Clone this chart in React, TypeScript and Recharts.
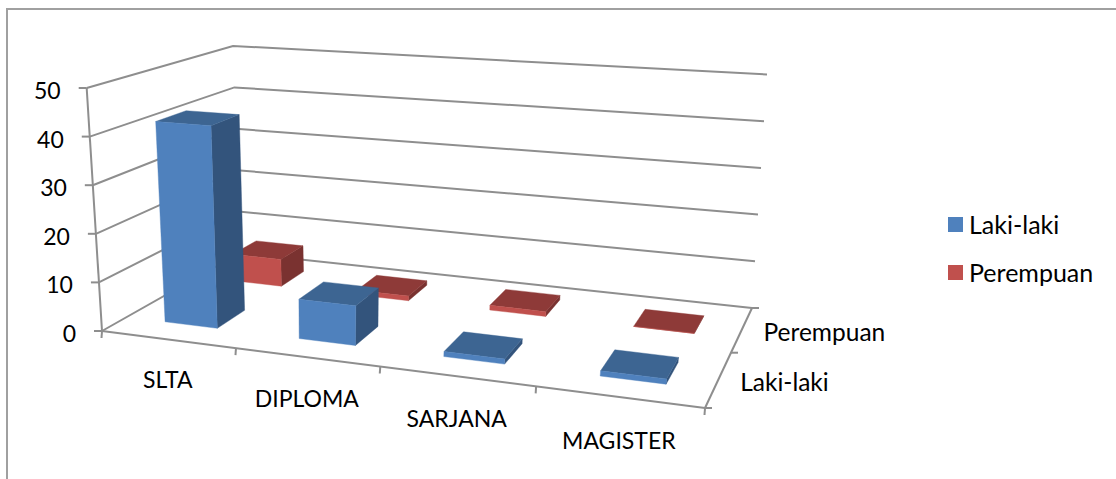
import React from 'react';
import { BarChart, Bar, XAxis, YAxis, CartesianGrid, Legend } from 'recharts';

const categories = ['SLTA', 'DIPLOMA', 'SARJANA', 'MAGISTER'];
const lakiLaki = [42, 8, 1, 1];
const perempuan = [6, 1, 1, 0];
const valueTicks = [0, 10, 20, 30, 40, 50];
const depthRows = ['Laki-laki', 'Perempuan'];

const chartData = categories.map((name, i) => ({
  name,
  'Laki-laki': lakiLaki[i],
  Perempuan: perempuan[i],
}));

const FONT = 'Lato, sans-serif';
const AXIS_COLOR = '#8e8e8e';
const AXIS_WIDTH = 2;

// plot rectangle the library scales map onto
const PLOT = { left: 102, top: 88, width: 603, height: 243 };
const BOTTOM = PLOT.top + PLOT.height;

// cube corners on screen: front-left, front-right, back-right, back-left
const FLOOR = [[102, 331], [705, 408], [752, 308], [240, 253]];
const CEILING = [[86.7, 88], [735, 135], [767, 74.5], [233, 46]];

const foreshorten = (v: number, a: number) => (a * v) / (1 + (a - 1) * v);

const quad = (c: number[][], s: number, t: number) => {
  const lx = c[0][0] + (c[3][0] - c[0][0]) * t;
  const ly = c[0][1] + (c[3][1] - c[0][1]) * t;
  const rx = c[1][0] + (c[2][0] - c[1][0]) * t;
  const ry = c[1][1] + (c[2][1] - c[1][1]) * t;
  return [lx + (rx - lx) * s, ly + (ry - ly) * s];
};

// u along categories, d into the depth, h up the value axis, all 0..1
const project = (u: number, d: number, h: number) => {
  const s = foreshorten(u, 0.857);
  const t = foreshorten(d, 1.237);
  const a = quad(FLOOR, s, t);
  const b = quad(CEILING, s, t);
  return [a[0] + (b[0] - a[0]) * h, a[1] + (b[1] - a[1]) * h];
};

const pts = (list: number[][]) => list.map((p) => `${p[0].toFixed(1)},${p[1].toFixed(1)}`).join(' ');
const uOf = (x: number) => (x - PLOT.left) / PLOT.width;
const hOf = (y: number) => (BOTTOM - y) / PLOT.height;

const Box = ({ x, y, width, d0, d1, front, top, side }: any) => {
  // boxes sit a touch further right than the band centres
  const u0 = uOf(x) * 1.006;
  const u1 = uOf(x + width) * 1.006;
  const h = hOf(y);
  return (
    <g strokeWidth={0.4}>
      <polygon
        points={pts([project(u1, d0, 0), project(u1, d1, 0), project(u1, d1, h), project(u1, d0, h)])}
        fill={side}
        stroke={side}
      />
      <polygon
        points={pts([project(u0, d0, h), project(u1, d0, h), project(u1, d1, h), project(u0, d1, h)])}
        fill={top}
        stroke={top}
      />
      <polygon
        points={pts([project(u0, d0, 0), project(u1, d0, 0), project(u1, d0, h), project(u0, d0, h)])}
        fill={front}
        stroke={front}
      />
    </g>
  );
};

// each gridline runs along the left wall and then the back wall
const WallLine = ({ y1 }: any) => {
  const h = hOf(y1);
  return (
    <polyline
      points={pts([project(0, 0, h), project(0, 1, h), project(1, 1, h)])}
      fill="none"
      stroke={AXIS_COLOR}
      strokeWidth={AXIS_WIDTH}
    />
  );
};

const ValueTick = ({ y, payload }: any) => {
  const h = hOf(y);
  const p = project(0, 0, h);
  return (
    <g>
      {payload.value === 0 && (
        <polyline points={pts([project(0, 0, 0), project(0, 0, 1)])} fill="none" stroke={AXIS_COLOR} strokeWidth={AXIS_WIDTH} />
      )}
      <line x1={p[0] - 8} y1={p[1]} x2={p[0]} y2={p[1]} stroke={AXIS_COLOR} strokeWidth={AXIS_WIDTH} />
      <text x={p[0] - 26} y={y + 2} textAnchor="end" dominantBaseline="central" fontSize={23} fontFamily={FONT} fill="#000">
        {payload.value}
      </text>
    </g>
  );
};

const CategoryTick = ({ x, payload, index }: any) => {
  const u = uOf(x);
  const step = 1 / categories.length;
  const p = project(u, 0, 0);
  const marks = index === categories.length - 1 ? [u - step / 2, u + step / 2] : [u - step / 2];
  return (
    <g>
      {index === 0 && (
        <polyline points={pts([project(0, 0, 0), project(1, 0, 0)])} fill="none" stroke={AXIS_COLOR} strokeWidth={AXIS_WIDTH} />
      )}
      {marks.map((m) => {
        const q = project(m, 0, 0);
        return <line key={m} x1={q[0]} y1={q[1]} x2={q[0] - 0.5} y2={q[1] + 7} stroke={AXIS_COLOR} strokeWidth={AXIS_WIDTH} />;
      })}
      <text x={p[0]} y={p[1] + 40 + index} textAnchor="middle" dominantBaseline="central" fontSize={23} fontFamily={FONT} fill="#000">
        {payload.value}
      </text>
    </g>
  );
};

const DepthTick = ({ y, payload, index }: any) => {
  const d = hOf(y);
  const p = project(1, d, 0);
  const marks = index === 0 ? [0, 0.5, 1] : [];
  return (
    <g>
      {index === 0 && (
        <polyline points={pts([project(1, 0, 0), project(1, 1, 0)])} fill="none" stroke={AXIS_COLOR} strokeWidth={AXIS_WIDTH} />
      )}
      {marks.map((m) => {
        const q = project(1, m, 0);
        return <line key={m} x1={q[0]} y1={q[1]} x2={q[0] + 7} y2={q[1]} stroke={AXIS_COLOR} strokeWidth={AXIS_WIDTH} />;
      })}
      <text x={p[0] + 21.5} y={p[1] + 2.5} textAnchor="start" dominantBaseline="central" fontSize={24.5} fontFamily={FONT} fill="#000">
        {depthRows[Math.floor(payload.value)]}
      </text>
    </g>
  );
};

const LegendBlock = ({ payload }: any) => (
  <div>
    {depthRows.map((row) => {
      const item = (payload ?? []).find((entry: any) => entry.value === row);
      return (
        <div key={row} style={{ display: 'flex', alignItems: 'center', height: 48 }}>
          <span style={{ width: 15, height: 15, background: item?.color, marginRight: 6 }} />
          <span style={{ fontSize: 25, fontFamily: FONT, color: '#000', lineHeight: '48px' }}>{row}</span>
        </div>
      );
    })}
  </div>
);

const App: React.FC = () => (
  <div style={{ position: 'absolute', left: 0, top: 0, width: 1116, height: 479, overflow: 'hidden', background: '#fff' }}>
    <div
      style={{
        position: 'absolute',
        left: 6,
        top: 8,
        width: 1120,
        height: 480,
        borderTop: '2px solid #a0a0a0',
        borderLeft: '2px solid #a0a0a0',
      }}
    />
    <BarChart
      width={1116}
      height={479}
      data={chartData}
      barCategoryGap="30%"
      margin={{ top: PLOT.top, left: 42, right: 381, bottom: 118 }}
      style={{ position: 'absolute', left: 0, top: 0 }}
    >
      <CartesianGrid xAxisId="front" yAxisId="value" vertical={false} horizontal={(props: any) => <WallLine key={props.key} {...props} />} />
      <XAxis xAxisId="front" dataKey="name" height={30} interval={0} axisLine={false} tickLine={false} tick={CategoryTick} />
      <XAxis xAxisId="rear" dataKey="name" hide />
      <XAxis xAxisId="rows" dataKey="name" hide />
      <YAxis yAxisId="value" width={60} domain={[0, 50]} ticks={valueTicks} interval={0} axisLine={false} tickLine={false} tick={ValueTick} />
      <YAxis
        yAxisId="depth"
        orientation="right"
        type="number"
        width={30}
        domain={[0, 2]}
        ticks={[0.5, 1.5]}
        interval={0}
        axisLine={false}
        tickLine={false}
        tick={DepthTick}
      />
      <Legend
        layout="vertical"
        align="center"
        verticalAlign="middle"
        wrapperStyle={{ left: 948, top: 200, width: 160 }}
        content={LegendBlock}
      />
      {/* keeps the depth axis attached to the chart, draws nothing */}
      <Bar xAxisId="rows" yAxisId="depth" dataKey={() => 0} fill="none" legendType="none" isAnimationActive={false} />
      <Bar
        xAxisId="rear"
        yAxisId="value"
        dataKey="Perempuan"
        fill="#C0504D"
        isAnimationActive={false}
        shape={(p: any) => <Box {...p} d0={0.65} d1={0.85} front="#C0504D" top="#8E3A38" side="#7A3230" />}
      />
      <Bar
        xAxisId="front"
        yAxisId="value"
        dataKey="Laki-laki"
        fill="#4F81BD"
        isAnimationActive={false}
        shape={(p: any) => <Box {...p} d0={0.15} d1={0.35} front="#4F81BD" top="#3D6592" side="#33547C" />}
      />
    </BarChart>
  </div>
);

export default App;
